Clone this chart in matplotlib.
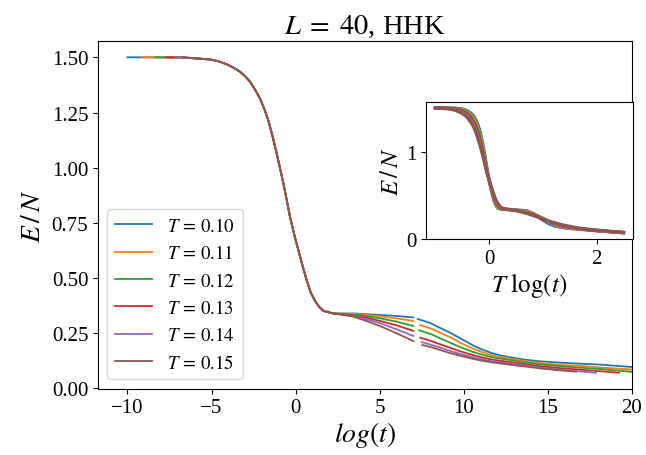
import numpy as np
import matplotlib
matplotlib.use("Agg")
from matplotlib import pyplot as plt

plt.rcParams['font.family'] = 'serif'
plt.rcParams['font.serif'] = ['Liberation Serif', 'DejaVu Serif']
plt.rcParams['mathtext.fontset'] = 'stix'

# temperatures and the log(t) where each run starts (T*log t = -1)
T_values = [0.10, 0.11, 0.12, 0.13, 0.14, 0.15]
log_t_start = [-10.0, -9.09, -8.33, -7.69, -7.14, -6.67]

# first relaxation step, identical for every T
head_x = np.array([-10.0, -6.67, -5.08, -4.59, -4.09, -3.70, -3.30, -3.00, -2.70, -2.41,
                   -2.11, -1.87, -1.62, -1.36, -1.12, -0.92, -0.72, -0.52, -0.33, -0.09,
                   0.17, 0.43, 0.67, 0.90, 1.16, 1.40, 1.65, 2.25])
head_y = np.array([1.501, 1.500, 1.491, 1.483, 1.469, 1.454, 1.435, 1.415, 1.389, 1.354,
                   1.313, 1.268, 1.214, 1.139, 1.063, 0.995, 0.926, 0.850, 0.775, 0.699,
                   0.623, 0.550, 0.486, 0.433, 0.395, 0.368, 0.350, 0.338])

# plateau up to the break at log(t) = 7
plateau_x = [3.43, 4.2, 5.02, 6.01, 7.0]
plateau_y = [
    [0.338, 0.335, 0.331, 0.327, 0.320],
    [0.336, 0.331, 0.325, 0.316, 0.304],
    [0.333, 0.326, 0.316, 0.301, 0.281],
    [0.330, 0.319, 0.304, 0.284, 0.259],
    [0.327, 0.312, 0.294, 0.266, 0.236],
    [0.324, 0.304, 0.281, 0.248, 0.213],
]

# second run, after the break
late_x = [
    [7.26, 8.0, 8.6, 9.2, 9.8, 10.5, 11.0, 11.6, 12.2, 13.0, 13.6, 14.5, 15.7, 16.9, 18.1, 19.3, 20.0, 22.5, 25.0],
    [7.40, 8.1, 8.6, 9.2, 9.8, 10.5, 11.0, 11.6, 12.2, 13.0, 13.6, 14.5, 15.7, 16.9, 18.1, 19.3, 20.0, 21.3, 22.73],
    [7.34, 8.1, 8.6, 9.2, 9.8, 10.5, 11.0, 11.6, 12.2, 13.0, 13.6, 14.5, 15.7, 16.9, 18.1, 19.3, 20.0, 20.83],
    [7.42, 8.1, 8.6, 9.2, 9.8, 10.5, 11.0, 11.6, 12.2, 13.0, 13.6, 14.5, 15.7, 16.9, 18.1, 19.23],
    [7.50, 8.1, 8.6, 9.2, 9.8, 10.5, 11.0, 11.6, 12.2, 13.0, 13.6, 14.5, 15.7, 16.9, 17.86],
    [7.54, 8.1, 8.6, 9.2, 9.8, 10.5, 11.0, 11.6, 12.2, 13.0, 13.6, 14.5, 15.7, 16.67],
]
late_y = [
    [0.313, 0.295, 0.272, 0.250, 0.225, 0.195, 0.177, 0.160, 0.147, 0.136, 0.129, 0.121, 0.115, 0.110, 0.106, 0.099, 0.095, 0.084, 0.072],
    [0.286, 0.268, 0.250, 0.230, 0.205, 0.180, 0.165, 0.150, 0.140, 0.130, 0.123, 0.113, 0.105, 0.100, 0.093, 0.087, 0.083, 0.078, 0.072],
    [0.262, 0.243, 0.225, 0.205, 0.185, 0.165, 0.153, 0.141, 0.133, 0.124, 0.117, 0.107, 0.099, 0.092, 0.086, 0.078, 0.073, 0.070],
    [0.228, 0.212, 0.198, 0.182, 0.166, 0.150, 0.140, 0.130, 0.123, 0.115, 0.109, 0.099, 0.090, 0.083, 0.076, 0.069],
    [0.208, 0.195, 0.183, 0.168, 0.154, 0.140, 0.131, 0.122, 0.116, 0.108, 0.103, 0.093, 0.083, 0.075, 0.069],
    [0.195, 0.184, 0.172, 0.158, 0.146, 0.133, 0.125, 0.117, 0.111, 0.103, 0.098, 0.089, 0.080, 0.074],
]

main_xticks = [-10, -5, 0, 5, 10, 15, 20]
main_yticks = [0.00, 0.25, 0.50, 0.75, 1.00, 1.25, 1.50]
inset_xticks = [0, 2]
inset_yticks = [0, 1]

fig = plt.figure(figsize=(6.46, 4.56), dpi=100)
ax = fig.add_axes([0.1517, 0.1458, 0.8266, 0.761])
ins = fig.add_axes([0.6594, 0.4737, 0.3204, 0.3011])

colors = plt.rcParams['axes.prop_cycle'].by_key()['color']

for i, T in enumerate(T_values):
    col = colors[i]
    mask = head_x > log_t_start[i]
    x1 = np.concatenate([[log_t_start[i]], head_x[mask], plateau_x])
    y1 = np.concatenate([[head_y[0]], head_y[mask], plateau_y[i]])
    x2 = np.array(late_x[i])
    y2 = np.array(late_y[i])

    ax.plot(x1, y1, color=col, lw=1.3, label=r'$T\,=\,%.2f$' % T)
    ax.plot(x2, y2, color=col, lw=1.3)

    ins.plot(T * x1, y1, color=col, lw=2.3)
    ins.plot(T * x2, y2, color=col, lw=2.3)

ax.set_xticks(main_xticks)
ax.set_yticks(main_yticks)
ax.set_xlim(right=20)
ax.tick_params(labelsize=15)
ax.set_xlabel(r'$log(t)$', fontsize=20, labelpad=1)
ax.set_ylabel(r'$E\,/\,N$', fontsize=20)
ax.set_title(r'$L\;=\;40$, HHK', fontsize=20.5)
ax.legend(loc='lower left', fontsize=13.5)

ins.set_xticks(inset_xticks)
ins.set_yticks(inset_yticks)
ins.tick_params(labelsize=15)
ins.set_xlabel(r'$T\ \log(t)$', fontsize=18, labelpad=2)
ins.set_ylabel(r'$E\,/\,N$', fontsize=18, labelpad=2)

fig.savefig('out.png', dpi=100)
